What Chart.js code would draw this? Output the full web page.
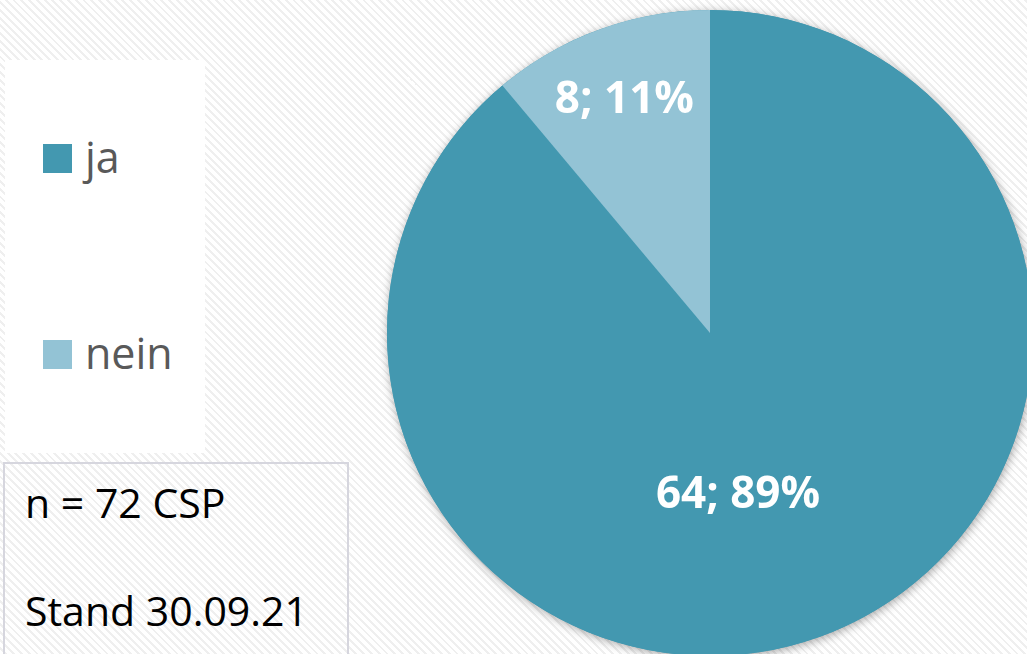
<!DOCTYPE html>
<html>
<head>
<meta charset="utf-8">
<script src="https://cdn.jsdelivr.net/npm/chart.js@4"></script>
<style>
  html,body{margin:0;padding:0;width:1027px;height:654px;overflow:hidden;}
  body{position:relative;font-family:"Open Sans",sans-serif;
    background:repeating-linear-gradient(45deg,#ffffff 0px,#ffffff 3.5px,#efefef 3.5px,#efefef 5.5px);}
  #wrap{position:absolute;left:367px;top:-10px;width:686px;height:686px;}
  #legend{position:absolute;left:5px;top:60px;width:200px;height:393px;background:#fff;}
  .lg-item{position:absolute;left:0;height:40px;}
  .lg-box{position:absolute;left:38px;width:29px;height:29px;}
  .lg-text{position:absolute;left:80px;font-size:43px;line-height:43px;color:#595959;white-space:nowrap;}
  #note{position:absolute;left:3px;top:462px;width:342px;height:220px;border:2px solid #d6d6de;}
  .note-line{position:absolute;left:20px;font-size:41px;line-height:41px;color:#000;white-space:nowrap;}
</style>
</head>
<body>
<div id="legend"></div>
<div id="note">
  <div class="note-line" id="n1" style="top:18px"></div>
  <div class="note-line" id="n2" style="top:126px"></div>
</div>
<div id="wrap"><canvas id="pie"></canvas></div>
<script>
// data
const categories = ["ja", "nein"];
const counts = [64, 8];
const percents = [89, 11];
const colors = ["#4398b0", "#93c3d5"];
const noteLines = ["n = 72 CSP", "Stand 30.09.21"];

// html legend + note box
const lg = document.getElementById("legend");
const lgTops = [84, 280];
categories.forEach((c, i) => {
  const it = document.createElement("div");
  it.className = "lg-item";
  it.style.top = lgTops[i] + "px";
  it.innerHTML = '<div class="lg-box" style="top:0;background:' + colors[i] + '"></div>' +
    '<div class="lg-text" style="top:-9px">' + c + '</div>';
  lg.appendChild(it);
});
document.getElementById("n1").textContent = noteLines[0];
document.getElementById("n2").textContent = noteLines[1];

/* soft shadow behind the whole pie */
const pieShadow = {
  id: "pieShadow",
  beforeDatasetsDraw(chart){
    const arc = chart.getDatasetMeta(0).data[0];
    if(!arc) return;
    const ctx = chart.ctx;
    ctx.save();
    ctx.shadowColor = "rgba(0,0,0,0.35)";
    ctx.shadowBlur = 10;
    ctx.shadowOffsetX = 1;
    ctx.shadowOffsetY = 2;
    ctx.fillStyle = colors[0];
    ctx.beginPath();
    ctx.arc(arc.x, arc.y, arc.outerRadius, 0, Math.PI * 2);
    ctx.fill();
    ctx.restore();
  }
};

/* value labels "64; 89%" drawn on the slices */
const sliceLabels = {
  id: "sliceLabels",
  afterDatasetsDraw(chart, args, opts){
    const ctx = chart.ctx;
    const meta = chart.getDatasetMeta(0);
    ctx.save();
    ctx.font = "bold 44px 'Open Sans', sans-serif";
    ctx.fillStyle = "#fff";
    ctx.textAlign = "center";
    ctx.textBaseline = "middle";
    meta.data.forEach((a, i) => {
      const mid = (a.startAngle + a.endAngle) / 2 + opts.shift[i] * Math.PI / 180;
      const r = a.outerRadius * opts.radial[i];
      ctx.fillText(counts[i] + "; " + percents[i] + "%", a.x + Math.cos(mid) * r, a.y + Math.sin(mid) * r + 3);
    });
    ctx.restore();
  }
};

new Chart(document.getElementById("pie"), {
  type: "pie",
  data: { labels: categories, datasets: [{ data: counts, backgroundColor: colors, borderWidth: 0, hoverOffset: 0 }] },
  options: {
    responsive: true, maintainAspectRatio: false, animation: false, events: [],
    layout: { padding: 20 },
    plugins: {
      legend: { display: false }, tooltip: { enabled: false },
      sliceLabels: { radial: [0.5, 0.775], shift: [10, 0] }
    }
  },
  plugins: [pieShadow, sliceLabels]
});
</script>
</body>
</html>
